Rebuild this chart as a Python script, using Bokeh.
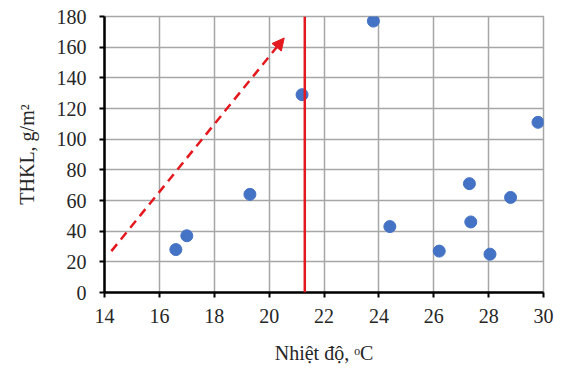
from bokeh.plotting import figure
from bokeh.models import Span, Arrow, NormalHead, FixedTicker, ColumnDataSource
from bokeh.embed import file_html
from bokeh.resources import INLINE

# Data
temperature = [16.6, 17.0, 19.3, 21.2, 23.8, 24.4, 26.2, 27.3, 27.35, 28.05, 28.8, 29.8]
thkl = [28, 37, 64, 129, 177, 43, 27, 71, 46, 25, 62, 111]
x_ticks = [14, 16, 18, 20, 22, 24, 26, 28, 30]
y_ticks = [0, 20, 40, 60, 80, 100, 120, 140, 160, 180]
threshold_x = 21.3
arrow_start = (14.25, 27)
arrow_end = (20.55, 166)

FONT = "Liberation Serif"

p = figure(width=560, height=366, x_range=(14, 30), y_range=(0, 180),
           output_backend="svg", toolbar_location=None,
           min_border_left=104, min_border_right=17, min_border_top=16, min_border_bottom=10)
p.frame_width = 439
p.frame_height = 276

p.outline_line_color = "#a6a6a6"
p.outline_line_width = 1.5
p.background_fill_color = "white"
p.border_fill_color = "white"

for g in (p.xgrid[0], p.ygrid[0]):
    g.grid_line_color = "#a6a6a6"
    g.grid_line_width = 1.5

p.xaxis.ticker = FixedTicker(ticks=x_ticks)
p.yaxis.ticker = FixedTicker(ticks=y_ticks)

p.axis.axis_line_color = "black"
p.axis.axis_line_width = 2.5
p.axis.major_tick_line_color = "black"
p.axis.major_tick_line_width = 2
p.axis.major_tick_out = 5
p.axis.major_tick_in = 0
p.axis.minor_tick_line_color = None
p.axis.major_label_text_font = FONT
p.axis.major_label_text_font_size = "20px"
p.axis.major_label_text_color = "#262626"
p.axis.axis_label_text_font = FONT
p.axis.axis_label_text_font_size = "20px"
p.axis.axis_label_text_font_style = "normal"
p.axis.axis_label_text_color = "#262626"

p.xaxis.axis_label = "Nhiệt độ, ᵒC"
p.yaxis.axis_label = "THKL, g/m²"
p.xaxis.major_label_standoff = 11
p.xaxis.axis_label_standoff = 16
p.yaxis.major_label_standoff = 13
p.yaxis.axis_label_standoff = 16

p.add_layout(Span(location=threshold_x, dimension="height", line_color="#e3191f", line_width=2.5))

p.add_layout(Arrow(end=NormalHead(size=12, fill_color="#e3191f", line_color="#e3191f"),
                   x_start=arrow_start[0], y_start=arrow_start[1],
                   x_end=arrow_end[0], y_end=arrow_end[1],
                   line_color="#e3191f", line_width=2.5, line_dash="9 6"))

src = ColumnDataSource(dict(x=temperature, y=thkl))
p.scatter("x", "y", source=src, size=12, fill_color="#4472c4", line_color="#4472c4")

open("out.html", "w").write(file_html(p, INLINE))
